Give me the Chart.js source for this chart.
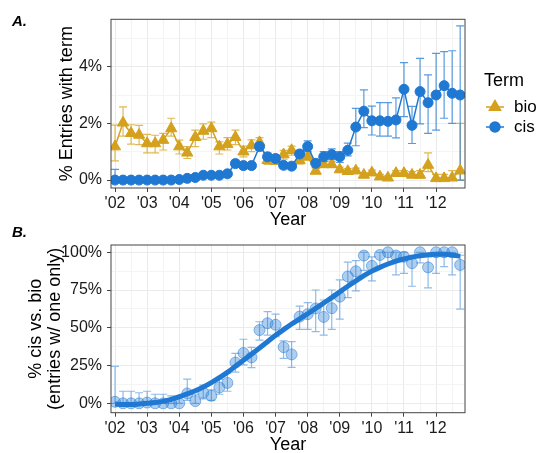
<!DOCTYPE html>
<html><head><meta charset="utf-8">
<script src="https://cdn.jsdelivr.net/npm/chart.js@4.4.1/dist/chart.umd.min.js"></script>
<style>
html,body{margin:0;padding:0;background:#fff;}
#wrap{position:relative;width:539px;height:453px;background:#fff;}
canvas{position:absolute;left:0;top:0;}
</style></head><body>
<div id="wrap"><canvas id="cA" width="539" height="453"></canvas><canvas id="cB" width="539" height="453"></canvas></div>
<script>
// ---------- DATA ----------
const quarters = [2002,2002.25,2002.5,2002.75,2003,2003.25,2003.5,2003.75,2004,2004.25,2004.5,2004.75,
  2005,2005.25,2005.5,2005.75,2006,2006.25,2006.5,2006.75,2007,2007.25,2007.5,2007.75,
  2008,2008.25,2008.5,2008.75,2009,2009.25,2009.5,2009.75,2010,2010.25,2010.5,2010.75,
  2011,2011.25,2011.5,2011.75,2012,2012.25,2012.5,2012.75];

const xTickYears  = [2002,2003,2004,2005,2006,2007,2008,2009,2010,2011,2012];
const xTickLabels = ["'02","'03","'04","'05","'06","'07","'08","'09","'10","'11","'12"];
const yTicksA = [0,2,4];
const yTicksB = [0,25,50,75,100];

// Panel A: % entries with term
const bioPct = [1.18,2.02,1.65,1.59,1.29,1.29,1.41,1.82,1.18,0.96,1.51,1.73,1.82,1.18,1.26,1.51,1.00,1.22,1.33,0.70,0.67,0.90,
  1.05,0.69,0.82,0.32,0.55,0.55,0.37,0.31,0.33,0.18,0.26,0.12,0.08,0.24,0.24,0.18,0.18,0.53,0.06,0.06,0.08,0.33];
const bioLo  = [0.68,1.55,1.27,1.25,0.96,0.96,1.06,1.55,0.92,0.76,1.18,1.44,1.50,0.92,1.06,1.25,0.82,1.00,1.15,0.55,0.55,0.74,
  0.88,0.57,0.70,0.24,0.45,0.45,0.28,0.23,0.25,0.11,0.18,0.06,0.03,0.15,0.15,0.10,0.08,0.30,0.00,0.00,0.00,0.00];
const bioHi  = [1.94,2.58,1.95,1.93,1.61,1.58,1.65,2.18,1.41,1.18,1.76,1.98,2.04,1.35,1.50,1.76,1.20,1.42,1.50,0.85,0.82,1.05,
  1.20,0.82,0.95,0.42,0.66,0.66,0.46,0.40,0.42,0.26,0.35,0.20,0.15,0.33,0.33,0.30,0.33,0.96,0.20,0.20,0.33,2.00];

const cisPct = [0.00,0.00,0.00,0.00,0.00,0.00,0.00,0.00,0.02,0.06,0.09,0.17,0.17,0.17,0.22,0.58,0.51,0.51,1.18,0.82,0.76,0.52,
  0.49,0.92,1.18,0.59,0.82,0.90,0.82,1.05,1.87,2.43,2.09,2.09,2.07,2.12,3.20,1.93,3.12,2.73,3.00,3.33,3.06,3.00];
const cisLo  = [0.00,0.00,0.00,0.00,0.00,0.00,0.00,0.00,0.00,0.02,0.04,0.10,0.10,0.10,0.14,0.46,0.40,0.40,1.05,0.70,0.65,0.42,
  0.40,0.80,1.00,0.45,0.65,0.72,0.62,0.85,1.21,1.85,1.59,1.55,1.55,1.49,2.24,1.29,1.98,1.65,1.76,2.18,2.00,0.00];
const cisHi  = [0.38,0.08,0.06,0.06,0.06,0.05,0.05,0.05,0.07,0.12,0.15,0.24,0.24,0.24,0.30,0.70,0.62,0.62,1.32,0.95,0.88,0.62,
  0.60,1.05,1.38,0.72,1.00,1.10,1.00,1.30,2.53,3.18,2.61,2.73,2.73,2.90,4.14,2.60,4.29,3.71,4.47,4.53,4.56,5.44];

// Panel B: % cis vs. bio
const sharePct = [1,0,0,0,0.5,0,0,0,0,6.5,1.5,7,5,10.5,13.5,27,33.3,30.4,48.5,53,52,37.2,
  32.4,57.4,59,62.8,57.2,63,70.6,84,87.4,97.8,91,98.2,100,97.8,97,92.8,100,90,100,100,100,91.6];
const shareLo  = [0,0,0,0,0,0,0,0,0,2,0,3,2,6,8,20.7,25.4,23.6,41.9,45.2,44.1,29.8,
  23.8,49,49,47.4,45.2,49,55.7,70,74.5,88,81,90,92,85,86,77.5,93,76.4,86,90.5,85,62.3];
const shareHi  = [24.5,8,8,7,8,6,6,5,4,16,6,12,9,16,20,33.1,42.4,37.1,54,60.7,59.1,41.3,
  40.8,64.4,66.6,75,68.4,75,81.7,93.5,94.4,100,97,100,100,100,100,98,100,97,100,100,100,98];
const fitPct   = [-0.5,-0.8,-0.8,-0.5,0,0.5,1.3,2.6,4.4,6.2,8.3,10.8,13.7,17,20.5,24.5,28.5,32.5,36.6,40.8,45,48.8,
  52.5,55.9,59.3,62.8,66.4,70,73.8,77.5,81,84.5,87.5,90,92.2,94.2,95.6,96.8,97.7,98.3,98.6,98.6,98.2,97.3];

// ---------- STYLE ----------
const FONT = '"Liberation Sans", Arial, sans-serif';
const GOLD = '#D4A11E', GOLD_E = 'rgba(212,161,30,0.75)';
const BLUE = '#1F78D2', BLUE_E = 'rgba(31,120,210,0.75)';
const TXT = '#1a1a1a';
const majorSet = new Set(xTickYears);

const errorBars = {
  id: 'errorBars',
  beforeDatasetsDraw(chart) {
    const {ctx, scales: {x, y}} = chart;
    chart.data.datasets.forEach((ds, di) => {
      if (!ds.errLo || !chart.isDatasetVisible(di)) return;
      ctx.save();
      ctx.beginPath();
      ctx.rect(chart.chartArea.left, chart.chartArea.top, chart.chartArea.right - chart.chartArea.left, chart.chartArea.bottom - chart.chartArea.top);
      ctx.clip();
      ctx.strokeStyle = ds.errColor;
      ctx.lineWidth = ds.errWidth || 1.2;
      const w = ds.capHalf || 4;
      ds.data.forEach((p, i) => {
        const px = x.getPixelForValue(p.x);
        const lo = y.getPixelForValue(ds.errLo[i]);
        const hi = y.getPixelForValue(ds.errHi[i]);
        ctx.beginPath();
        ctx.moveTo(px, lo); ctx.lineTo(px, hi);
        ctx.moveTo(px - w, lo); ctx.lineTo(px + w, lo);
        ctx.moveTo(px - w, hi); ctx.lineTo(px + w, hi);
        ctx.stroke();
      });
      ctx.restore();
    });
  }
};

const panelFrame = {
  id: 'panelFrame',
  afterDraw(chart, args, opts) {
    const {ctx, chartArea: a} = chart;
    ctx.save();
    ctx.strokeStyle = '#444';
    ctx.lineWidth = 1;
    ctx.strokeRect(a.left, a.top, a.right - a.left, a.bottom - a.top);
    ctx.fillStyle = '#000';
    ctx.font = 'italic bold 15px ' + FONT;
    ctx.textAlign = 'left';
    ctx.textBaseline = 'middle';
    ctx.fillText(opts.text, 12, opts.y);
    ctx.restore();
  }
};

const termLegend = {
  id: 'termLegend',
  afterDraw(chart, args, opts) {
    if (!opts.show) return;
    const ctx = chart.ctx;
    ctx.save();
    ctx.fillStyle = '#000';
    ctx.textAlign = 'left';
    ctx.textBaseline = 'middle';
    ctx.font = '18px ' + FONT;
    ctx.fillText('Term', 484, 81);
    ctx.font = '17px ' + FONT;
    const ys = [107, 127];
    chart.data.datasets.forEach((ds, i) => {
      const yy = ys[i];
      ctx.strokeStyle = ds.borderColor; ctx.lineWidth = 1.5;
      ctx.beginPath(); ctx.moveTo(486, yy); ctx.lineTo(504, yy); ctx.stroke();
      ctx.fillStyle = ds.backgroundColor;
      Chart.helpers.drawPoint(ctx, {pointStyle: ds.pointStyle, radius: ds.pointRadius, borderWidth: 1, rotation: 0}, 495, yy);
      ctx.fill();
      ctx.fillStyle = '#000';
      ctx.fillText(ds.label, 514, yy);
    });
    ctx.restore();
  }
};

function xScale(axisH) {
  return {
    type: 'linear', min: 2001.875, max: 2012.9,
    afterBuildTicks: s => {
      const t = [];
      xTickYears.forEach(v => { t.push({value: v}); t.push({value: v + 0.5}); });
      s.ticks = t;
    },
    afterFit: s => { s.height = axisH; },
    ticks: {
      autoSkip: false, maxRotation: 0, minRotation: 0, padding: 2, color: TXT,
      font: {size: 16, family: FONT},
      callback: v => { const k = xTickYears.indexOf(v); return k >= 0 ? xTickLabels[k] : ''; }
    },
    grid: {
      color: c => majorSet.has(c.tick && c.tick.value) ? '#EBEBEB' : '#F4F4F4',
      tickColor: c => majorSet.has(c.tick && c.tick.value) ? '#444' : 'rgba(0,0,0,0)',
      tickLength: 4, lineWidth: 1
    },
    border: {display: false},
    title: {display: true, text: 'Year', color: '#000', font: {size: 18, family: FONT}, padding: {top: 0, bottom: -2.5}}
  };
}

function yScale(min, max, allTicks, labelTicks, titleText, titlePad, lh) {
  const lset = new Set(labelTicks);
  return {
    type: 'linear', min: min, max: max,
    afterBuildTicks: s => { s.ticks = allTicks.map(v => ({value: v})); },
    afterFit: s => { s.width = 111; },
    ticks: {
      autoSkip: false, padding: 5, color: TXT, font: {size: 16, family: FONT},
      callback: v => lset.has(v) ? v + '%' : ''
    },
    grid: {
      color: c => lset.has(c.tick && c.tick.value) ? '#EBEBEB' : '#F4F4F4',
      tickColor: c => lset.has(c.tick && c.tick.value) ? '#444' : 'rgba(0,0,0,0)',
      tickLength: 4, lineWidth: 1
    },
    border: {display: false},
    title: {display: true, text: titleText, color: '#000', font: {size: 18, family: FONT, lineHeight: lh}, padding: {top: titlePad, bottom: 0}}
  };
}

const commonPlugins = {legend: {display: false}, tooltip: {enabled: false}};

new Chart(document.getElementById('cA'), {
  type: 'line',
  data: {
    datasets: [
      {label: 'bio', data: quarters.map((q, i) => ({x: q, y: bioPct[i]})),
       borderColor: GOLD, backgroundColor: GOLD, borderWidth: 1.5, pointStyle: 'triangle', pointRadius: 6.5,
       pointBorderWidth: 1, tension: 0, order: 1, errLo: bioLo, errHi: bioHi, errColor: GOLD_E, capHalf: 4},
      {label: 'cis', data: quarters.map((q, i) => ({x: q, y: cisPct[i]})),
       borderColor: BLUE, backgroundColor: BLUE, borderWidth: 1.5, pointStyle: 'circle', pointRadius: 5,
       pointBorderWidth: 1, tension: 0, order: 0, errLo: cisLo, errHi: cisHi, errColor: BLUE_E, capHalf: 4}
    ]
  },
  options: {
    responsive: false, animation: false, devicePixelRatio: 1,
    layout: {padding: {left: 0, right: 74, top: 19.3, bottom: 225}},
    plugins: Object.assign({}, commonPlugins, {panelFrame: {text: 'A.', y: 21.5}, termLegend: {show: true}}),
    scales: {
      x: xScale(40),
      y: yScale(-0.28, 5.67, [0, 1, 2, 3, 4, 5], yTicksA, '% Entries with term', 56.7, 1.2)
    }
  },
  plugins: [errorBars, panelFrame, termLegend]
});

new Chart(document.getElementById('cB'), {
  type: 'line',
  data: {
    datasets: [
      {label: 'fit', data: quarters.map((q, i) => ({x: q, y: fitPct[i]})),
       borderColor: BLUE, borderWidth: 5, pointRadius: 0, cubicInterpolationMode: 'monotone', order: 0, fill: false},
      {label: 'share', data: quarters.map((q, i) => ({x: q, y: sharePct[i]})), showLine: false,
       backgroundColor: 'rgba(31,120,210,0.36)', borderColor: 'rgba(31,120,210,0.5)', pointRadius: 5.5,
       pointBorderWidth: 1, order: 1, errLo: shareLo, errHi: shareHi, errColor: 'rgba(31,120,210,0.5)', capHalf: 4, errWidth: 1.2}
    ]
  },
  options: {
    responsive: false, animation: false, devicePixelRatio: 1,
    layout: {padding: {left: 0, right: 74, top: 245, bottom: 0}},
    plugins: Object.assign({}, commonPlugins, {panelFrame: {text: 'B.', y: 232.5}, termLegend: {show: false}}),
    scales: {
      x: xScale(40.3),
      y: yScale(-6.2, 104.8, [0, 12.5, 25, 37.5, 50, 62.5, 75, 87.5, 100], yTicksB, ['% cis vs. bio', '(entries w/ one only)'], 26.5, 1.05)
    }
  },
  plugins: [errorBars, panelFrame, termLegend]
});
</script>
</body></html>
